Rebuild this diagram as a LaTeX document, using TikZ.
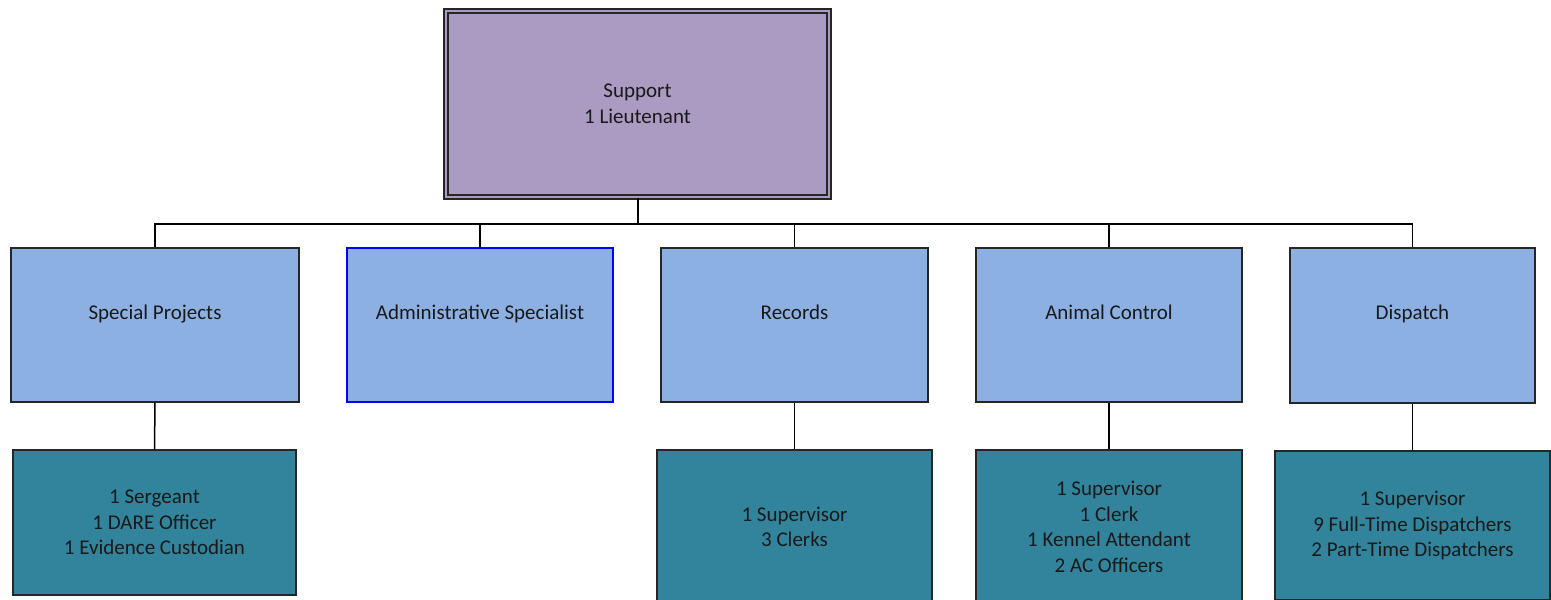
\documentclass[tikz,border=0pt]{standalone}
\usepackage{fontspec}
\setmainfont{Carlito}
\definecolor{supfill}{HTML}{A99BC1}
\definecolor{midfill}{HTML}{8DB0E3}
\definecolor{lowfill}{HTML}{31849B}
\definecolor{admblue}{HTML}{0000FF}
\begin{document}
\begin{tikzpicture}[x=1pt,y=-1pt,
  every node/.style={font=\fontsize{21}{25.5}\selectfont, align=center, inner sep=0pt, text=black!90},
  topbox/.style={draw=black!85, line width=1.6pt, double=supfill, double distance=2.2pt, fill=supfill, minimum width=383pt, minimum height=186pt},
  midbox/.style={draw=black!85, line width=1.4pt, fill=midfill, minimum height=154pt},
  lowbox/.style={draw=black!85, line width=1.4pt, fill=lowfill},
  conn/.style={draw=black, line width=1.5pt},
  midtext/.style={anchor=base}
]
\useasboundingbox (0,0) rectangle (1551,600);

\node[topbox] (sup) at (637.5,104) {Support\\1 Lieutenant};

\node[midbox, minimum width=288pt] (sp) at (155,325) {};
\node[midbox, minimum width=266pt, draw=admblue] (adm) at (480,325) {};
\node[midbox, minimum width=267pt] (rec) at (794.5,325) {};
\node[midbox, minimum width=266pt] (ani) at (1109,325) {};
\node[midbox, minimum width=245pt, minimum height=155pt] (dis) at (1412.5,325.5) {};

\node[midtext] (tsp) at (155,319) {Special Projects};
\node[midtext] (tadm) at (480,319) {Administrative Specialist};
\node[midtext] (trec) at (794.5,319) {Records};
\node[midtext] (tani) at (1109,319) {Animal Control};
\node[midtext] (tdis) at (1412.5,319) {Dispatch};

\node[lowbox, minimum width=283pt, minimum height=145pt] (lsp) at (154.5,522.5) {1 Sergeant\\1 DARE Officer\\1 Evidence Custodian};
\node[lowbox, minimum width=275pt, minimum height=154pt] (lrec) at (794.5,527) {1 Supervisor\\3 Clerks};
\node[lowbox, minimum width=266pt, minimum height=154pt] (lani) at (1109,527) {1 Supervisor\\1 Clerk\\1 Kennel Attendant\\2 AC Officers};
\node[lowbox, minimum width=275pt, minimum height=149pt] (ldis) at (1412.5,525.5) {1 Supervisor\\9 Full-Time Dispatchers\\2 Part-Time Dispatchers};

\coordinate (bus) at (637.5,224);
\draw[conn, line width=2pt] (sup.south) -- (bus);
\draw[conn] (sp.north) |- (bus) -| (dis.north);
\draw[conn] (adm.north) -- (adm.north |- bus);
\draw[conn] (rec.north) -- (rec.north |- bus);
\draw[conn] (ani.north) -- (ani.north |- bus);

\draw[conn] (sp.south) -- (lsp.north);
\draw[conn] (rec.south) -- (lrec.north);
\draw[conn] (ani.south) -- (lani.north);
\draw[conn] (dis.south) -- (ldis.north);
\end{tikzpicture}
\end{document}
